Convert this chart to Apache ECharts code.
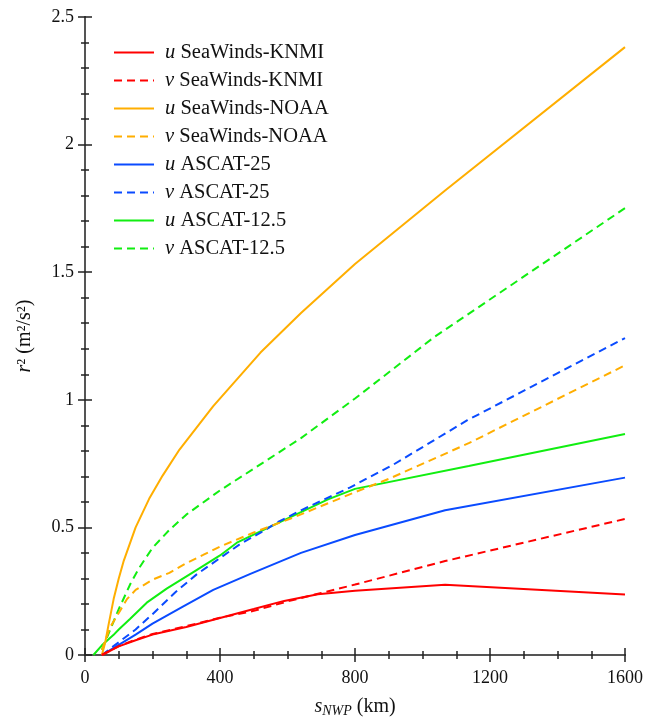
<!DOCTYPE html>
<html>
<head>
<meta charset="utf-8">
<script src="https://cdn.jsdelivr.net/npm/echarts@6/dist/echarts.min.js"></script>
<style>html,body{margin:0;padding:0;background:#fff;}#c{width:657px;height:723px;}</style>
</head>
<body>
<div id="c"></div>
<script>
const seriesNames = ['u SeaWinds-KNMI','v SeaWinds-KNMI','u SeaWinds-NOAA','v SeaWinds-NOAA','u ASCAT-25','v ASCAT-25','u ASCAT-12.5','v ASCAT-12.5'];
const xTicks = [0, 400, 800, 1200, 1600];
const yTicks = [0, 0.5, 1, 1.5, 2, 2.5];

const knmiU = [[50,0],[100,0.034],[150,0.058],[200,0.08],[300,0.11],[400,0.145],[500,0.18],[590,0.212],[690,0.238],[800,0.252],[1067,0.275],[1600,0.237]];
const knmiV = [[50,0],[100,0.035],[150,0.06],[200,0.082],[300,0.113],[400,0.146],[500,0.173],[600,0.21],[700,0.243],[800,0.276],[1067,0.368],[1600,0.533]];
const noaaU = [[50,0],[60,0.05],[70,0.12],[85,0.22],[100,0.3],[115,0.37],[150,0.5],[190,0.612],[230,0.703],[280,0.805],[380,0.975],[520,1.185],[640,1.34],[800,1.532],[1067,1.82],[1600,2.382]];
const noaaV = [[50,0.02],[75,0.11],[100,0.165],[125,0.22],[150,0.255],[200,0.295],[250,0.322],[300,0.36],[350,0.392],[400,0.425],[500,0.48],[620,0.54],[800,0.638],[900,0.69],[1137,0.83],[1600,1.135]];
const ascat25U = [[50,0],[100,0.04],[150,0.08],[200,0.123],[290,0.19],[380,0.255],[490,0.318],[640,0.4],[800,0.47],[1067,0.567],[1600,0.695]];
const ascat25V = [[50,0],[100,0.05],[150,0.1],[200,0.16],[267,0.245],[330,0.315],[400,0.38],[460,0.435],[530,0.487],[570,0.52],[640,0.567],[786,0.657],[915,0.747],[1133,0.92],[1600,1.242]];
const ascat125U = [[25,0],[50,0.038],[84,0.078],[100,0.1],[134,0.142],[183,0.205],[242,0.26],[321,0.325],[400,0.39],[450,0.44],[540,0.497],[640,0.56],[720,0.61],[800,0.651],[1137,0.741],[1600,0.866]];
const ascat125V = [[50,0.02],[75,0.1],[100,0.18],[135,0.28],[160,0.34],[200,0.42],[250,0.49],[300,0.55],[400,0.645],[500,0.73],[640,0.85],[800,1.005],[1034,1.245],[1600,1.751]];

const seriesData = [knmiU, knmiV, noaaU, noaaV, ascat25U, ascat25V, ascat125U, ascat125V];
const colors = ['#ff0000','#ff0000','#ffae00','#ffae00','#0a4bff','#0a4bff','#11ee11','#11ee11'];

const FONT = 'Liberation Serif';
const chart = echarts.init(document.getElementById('c'), null, {renderer:'canvas'});

const frameLine = {show:true, lineStyle:{color:'#555', width:2}};
const tick = {show:true, inside:true, length:7, lineStyle:{color:'#222', width:1.5}};
const minor = {show:true, splitNumber:4, length:4, lineStyle:{color:'#222', width:1.5}};
const minorY = {show:true, splitNumber:5, length:4, lineStyle:{color:'#222', width:1.5}};

const option = {
  animation:false,
  backgroundColor:'#fff',
  grid:{left:85, right:32, top:17, bottom:60, containLabel:false},
  legend:{
    left:108, top:37, orient:'vertical',
    itemWidth:40, itemHeight:14, itemGap:7,
    data: seriesNames,
    itemStyle:{opacity:0},
    formatter: function(n){ const p = n.split(' '); return '{i|' + p[0] + '} ' + p.slice(1).join(' '); },
    textStyle:{fontFamily:FONT, fontSize:20.5, lineHeight:20, color:'#111', padding:[0,0,0,6],
      rich:{i:{fontFamily:FONT, fontStyle:'italic', fontSize:20.5, lineHeight:20, color:'#111'}}}
  },
  xAxis:[{
    type:'value', min:0, max:1600, interval:400, position:'bottom',
    axisLine:frameLine, axisTick:tick, minorTick:minor, splitLine:{show:false},
    axisLabel:{fontFamily:FONT, fontSize:18, color:'#111', margin:14,
      formatter:function(v){ return xTicks.indexOf(v) >= 0 ? String(v) : ''; }},
    name:'{i|s}{sub|NWP}{n| (km)}', nameLocation:'middle', nameGap:40,
    nameTextStyle:{fontFamily:FONT, fontSize:20, color:'#111',
      rich:{
        i:{fontFamily:FONT, fontStyle:'italic', fontSize:20, color:'#111'},
        sub:{fontFamily:FONT, fontStyle:'italic', fontSize:14, color:'#111', padding:[9,0,0,0]},
        n:{fontFamily:FONT, fontSize:20, color:'#111'}
      }}
  },{
    type:'value', min:0, max:1600, interval:400, position:'top',
    axisLine:frameLine, axisTick:tick, minorTick:minor, splitLine:{show:false},
    axisLabel:{show:false}
  }],
  yAxis:[{
    type:'value', min:0, max:2.5, interval:0.5, position:'left',
    axisLine:frameLine, axisTick:tick, minorTick:minorY, splitLine:{show:false},
    axisLabel:{fontFamily:FONT, fontSize:18, color:'#111', margin:11,
      formatter:function(v){ return yTicks.indexOf(v) >= 0 ? String(v) : ''; }},
    name:'{i|r}² (m²/s²)', nameLocation:'middle', nameGap:50, nameRotate:90,
    nameTextStyle:{fontFamily:FONT, fontSize:20, color:'#111',
      rich:{i:{fontFamily:FONT, fontStyle:'italic', fontSize:20, color:'#111'}}}
  },{
    type:'value', min:0, max:2.5, interval:0.5, position:'right',
    axisLine:frameLine, axisTick:tick, minorTick:minorY, splitLine:{show:false},
    axisLabel:{show:false}
  }],
  series: seriesNames.map(function(name, i){
    return {
      name:name, type:'line', xAxisIndex:0, yAxisIndex:0,
      data:seriesData[i], symbol:'none', smooth:false, z:10-i,
      color:colors[i],
      lineStyle:{color:colors[i], width:2, type: (i % 2 === 1) ? [8,5] : 'solid'}
    };
  })
};
chart.setOption(option);
</script>
</body>
</html>
